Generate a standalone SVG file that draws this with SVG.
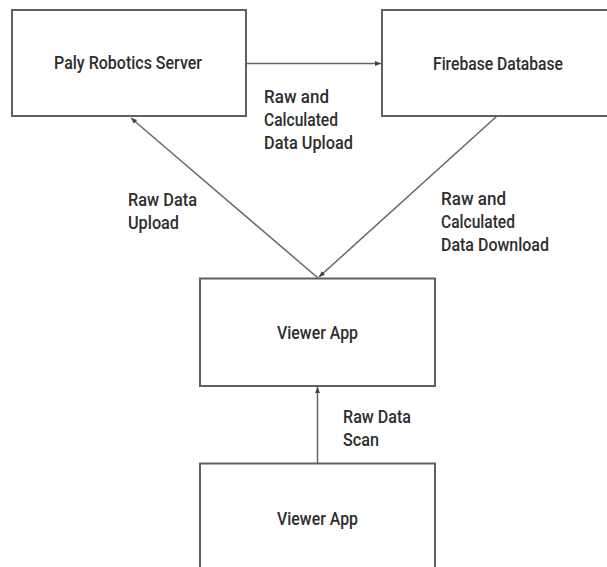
<svg xmlns="http://www.w3.org/2000/svg" width="607" height="567" viewBox="0 0 607 567">
  <style>
    .box { fill: #ffffff; stroke: #5f5f5f; stroke-width: 2; }
    .lbl { font-family: Roboto, "Liberation Sans", "DejaVu Sans", sans-serif; font-weight: 500; font-size: 18px; fill: #2e2e2e; }
    .conn { stroke: #666666; stroke-width: 1.5; fill: none; marker-end: url(#ah); }
  </style>
  <defs>
    <marker id="ah" markerUnits="userSpaceOnUse" markerWidth="8" markerHeight="8" refX="6" refY="3" orient="auto">
      <path d="M0,0.5 L6,3 L0,5.5 Z" fill="#444444"/>
    </marker>
  </defs>
  <rect width="607" height="567" fill="#ffffff"/>

  <g id="connectors">
    <line class="conn" x1="246" y1="63.5" x2="381" y2="63.5"/>
    <line class="conn" x1="318" y1="278" x2="131" y2="118"/>
    <line class="conn" x1="497" y1="116" x2="319" y2="277"/>
    <line class="conn" x1="317.5" y1="463" x2="317.5" y2="387"/>
  </g>

  <g id="paly-server">
    <rect class="box" x="12" y="10" width="234" height="106"/>
    <text class="lbl" x="54" y="68.5" textLength="148" lengthAdjust="spacingAndGlyphs">Paly Robotics Server</text>
  </g>

  <g id="firebase">
    <rect class="box" x="382" y="10" width="240" height="106"/>
    <text class="lbl" x="433" y="70" textLength="130" lengthAdjust="spacingAndGlyphs">Firebase Database</text>
  </g>

  <g id="viewer-app-1">
    <rect class="box" x="200" y="278.5" width="235" height="107.5"/>
    <text class="lbl" x="277" y="339" textLength="81" lengthAdjust="spacingAndGlyphs">Viewer App</text>
  </g>

  <g id="viewer-app-2">
    <rect class="box" x="200" y="463.5" width="235" height="120"/>
    <text class="lbl" x="277" y="525" textLength="81" lengthAdjust="spacingAndGlyphs">Viewer App</text>
  </g>

  <g id="labels">
    <text class="lbl" x="264" y="103" textLength="65" lengthAdjust="spacingAndGlyphs">Raw and</text>
    <text class="lbl" x="264" y="126" textLength="74" lengthAdjust="spacingAndGlyphs">Calculated</text>
    <text class="lbl" x="264" y="149" textLength="89" lengthAdjust="spacingAndGlyphs">Data Upload</text>

    <text class="lbl" x="128" y="205.5" textLength="69" lengthAdjust="spacingAndGlyphs">Raw Data</text>
    <text class="lbl" x="128" y="228.5" textLength="51" lengthAdjust="spacingAndGlyphs">Upload</text>

    <text class="lbl" x="441" y="205" textLength="65" lengthAdjust="spacingAndGlyphs">Raw and</text>
    <text class="lbl" x="441" y="228" textLength="74" lengthAdjust="spacingAndGlyphs">Calculated</text>
    <text class="lbl" x="441" y="251" textLength="108" lengthAdjust="spacingAndGlyphs">Data Download</text>

    <text class="lbl" x="343" y="422.5" textLength="68" lengthAdjust="spacingAndGlyphs">Raw Data</text>
    <text class="lbl" x="343" y="445.5" textLength="36" lengthAdjust="spacingAndGlyphs">Scan</text>
  </g>
</svg>
